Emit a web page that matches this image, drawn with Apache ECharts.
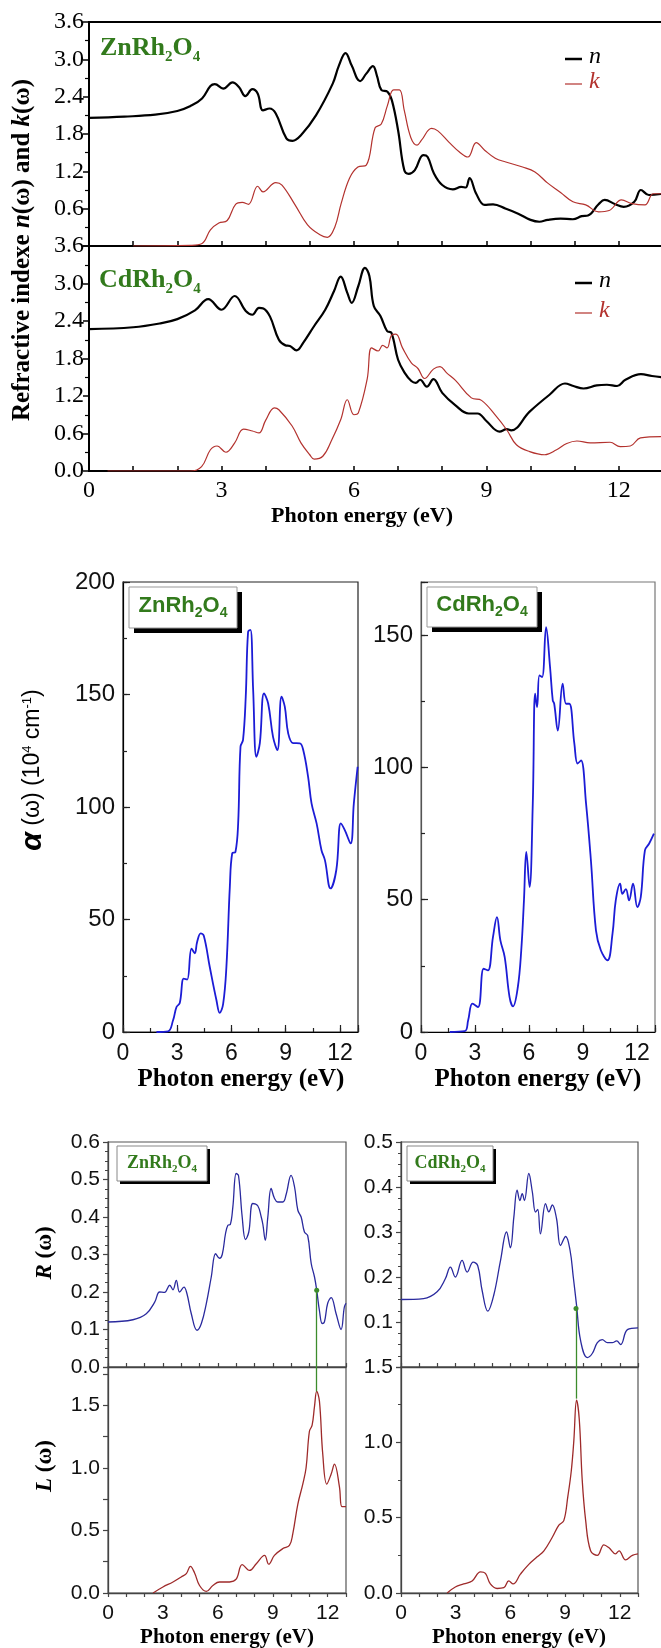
<!DOCTYPE html>
<html><head><meta charset="utf-8">
<script src="https://cdn.jsdelivr.net/npm/echarts/dist/echarts.min.js"></script>
<style>html,body{margin:0;padding:0;background:#fff}#c{width:661px;height:1648px}</style>
</head><body><div id="c"></div><script>
// ---------------- data (photon energy eV, value) ----------------
const energyTickLabels = [0, 3, 6, 9, 12];
const znN = [[0,2.06],[0.8,2.08],[1.5,2.11],[2.0,2.17],[2.3,2.25],[2.56,2.37],[2.75,2.57],[2.85,2.60],[3.04,2.53],[3.25,2.63],[3.4,2.55],[3.54,2.41],[3.7,2.52],[3.82,2.45],[3.94,2.18],[4.09,2.21],[4.23,2.13],[4.47,1.73],[4.61,1.69],[4.8,1.78],[5.14,2.10],[5.52,2.61],[5.66,2.90],[5.81,3.10],[5.95,2.90],[6.14,2.65],[6.28,2.77],[6.43,2.89],[6.52,2.74],[6.62,2.51],[6.76,2.48],[6.86,2.34],[7.0,1.86],[7.14,1.22],[7.24,1.16],[7.38,1.22],[7.57,1.46],[7.67,1.43],[7.81,1.17],[8.0,0.98],[8.24,0.91],[8.43,0.95],[8.53,0.94],[8.62,1.09],[8.77,0.84],[8.96,0.66],[9.15,0.67],[9.44,0.60],[9.72,0.52],[10.0,0.42],[10.2,0.39],[10.39,0.42],[10.68,0.44],[10.96,0.43],[11.16,0.48],[11.3,0.49],[11.54,0.67],[11.68,0.74],[11.92,0.67],[12.11,0.63],[12.35,0.71],[12.5,0.90],[12.68,0.82],[13,0.84]];
const znK = [[1.0,0],[2.3,0.01],[2.56,0.04],[2.75,0.26],[2.94,0.37],[3.13,0.41],[3.32,0.67],[3.47,0.70],[3.61,0.67],[3.82,0.96],[3.94,0.87],[4.23,1.02],[4.37,0.98],[4.66,0.67],[4.95,0.34],[5.23,0.18],[5.4,0.14],[5.57,0.31],[5.71,0.68],[5.9,1.09],[6.09,1.27],[6.28,1.30],[6.48,1.90],[6.62,1.96],[6.76,2.26],[6.9,2.51],[7.03,2.51],[7.14,2.18],[7.29,1.74],[7.43,1.62],[7.53,1.70],[7.76,1.89],[7.9,1.85],[8.15,1.67],[8.39,1.51],[8.58,1.43],[8.77,1.66],[8.96,1.54],[9.2,1.41],[9.44,1.35],[9.82,1.27],[10.1,1.19],[10.39,1.01],[10.68,0.86],[10.96,0.71],[11.25,0.66],[11.54,0.55],[11.78,0.57],[12.06,0.74],[12.3,0.68],[12.59,0.66],[12.78,0.84],[13,0.84]];
const cdN = [[0,2.27],[1.0,2.30],[1.6,2.36],[2.0,2.43],[2.4,2.57],[2.7,2.75],[3.0,2.58],[3.3,2.80],[3.55,2.56],[3.7,2.50],[3.85,2.61],[3.95,2.60],[4.1,2.47],[4.3,2.10],[4.45,2.01],[4.55,2.00],[4.7,1.93],[4.85,2.05],[5.1,2.32],[5.35,2.58],[5.55,2.88],[5.7,3.11],[5.85,2.85],[5.95,2.69],[6.1,2.96],[6.25,3.25],[6.35,3.12],[6.45,2.64],[6.6,2.48],[6.75,2.24],[6.85,2.21],[7.0,1.78],[7.15,1.57],[7.3,1.44],[7.4,1.41],[7.5,1.46],[7.65,1.35],[7.8,1.47],[8.0,1.25],[8.3,1.05],[8.6,0.92],[8.8,0.92],[9.0,0.80],[9.3,0.63],[9.46,0.67],[9.56,0.65],[9.98,0.95],[10.43,1.22],[10.78,1.40],[10.97,1.36],[11.2,1.32],[11.5,1.37],[11.73,1.38],[11.96,1.36],[12.15,1.46],[12.5,1.55],[12.75,1.52],[13,1.50]];
const cdK = [[0.42,0],[2.3,0.0],[2.55,0.07],[2.75,0.34],[2.9,0.40],[3.1,0.30],[3.3,0.45],[3.5,0.67],[3.7,0.64],[3.85,0.61],[4.0,0.81],[4.2,1.01],[4.3,0.98],[4.6,0.72],[4.8,0.45],[5.0,0.26],[5.1,0.19],[5.3,0.24],[5.5,0.50],[5.7,0.82],[5.85,1.14],[6.0,0.90],[6.1,0.93],[6.3,1.47],[6.4,1.97],[6.55,1.92],[6.65,2.01],[6.75,1.97],[6.85,2.17],[6.95,2.19],[7.1,1.97],[7.3,1.73],[7.45,1.64],[7.6,1.48],[7.8,1.63],[7.95,1.67],[8.1,1.57],[8.3,1.45],[8.66,1.17],[8.89,1.13],[9.23,0.87],[9.46,0.66],[9.68,0.42],[9.98,0.31],[10.32,0.26],[10.59,0.34],[10.82,0.44],[11.05,0.48],[11.35,0.45],[11.8,0.46],[12.03,0.39],[12.26,0.40],[12.49,0.53],[13,0.55]];
const znAlpha = [[1.85,0],[2.49,0.3],[2.77,5.2],[2.96,11.1],[3.14,12.9],[3.36,23.7],[3.55,23.3],[3.79,37.1],[3.97,35],[4.1,40],[4.3,43.8],[4.47,42.8],[4.8,28.9],[5.17,14.1],[5.35,8.5],[5.54,12.5],[5.72,28.9],[5.91,64.5],[6.04,79.4],[6.22,80],[6.37,92.7],[6.5,126.8],[6.64,129.8],[6.79,149],[6.92,177.9],[7.05,178.7],[7.2,152],[7.38,122.3],[7.57,128.4],[7.8,150.5],[8.03,146],[8.3,131.2],[8.54,125.3],[8.77,149],[8.95,144.6],[9.14,132.7],[9.41,128.4],[9.78,128.3],[9.97,125.3],[10.24,113.4],[10.43,101.6],[10.71,92.7],[10.98,80.8],[11.17,76.4],[11.48,63.8],[11.8,72],[12.05,92.7],[12.27,89.7],[12.59,83.8],[12.77,101.6],[12.98,117.9]];
const cdAlpha = [[1.6,0],[2.43,0.3],[2.62,4.4],[2.86,10.7],[3.17,9.4],[3.48,23.9],[3.72,23.3],[4.0,35.9],[4.22,43.4],[4.41,34.6],[4.65,28.3],[4.92,13.2],[5.11,9.7],[5.38,17],[5.57,30.9],[5.72,49.7],[5.85,68],[6.03,54.8],[6.21,86.3],[6.34,127.8],[6.45,122.7],[6.58,134.7],[6.73,134.1],[6.95,152.9],[7.17,137.8],[7.32,125.3],[7.4,124],[7.6,113.9],[7.87,131.6],[8.06,124],[8.24,124],[8.52,108.9],[8.7,101.4],[8.89,102.6],[9.17,86.3],[9.44,64.8],[9.72,38.4],[9.99,30.9],[10.36,27.1],[10.64,37.2],[10.82,49.7],[11.06,56],[11.19,52.2],[11.38,54],[11.56,49.7],[11.78,56],[12.02,47.2],[12.21,51],[12.44,68.6],[12.67,71.1],[12.94,74.9]];
const znR = [[0,0.12],[1.36,0.126],[2.09,0.142],[2.55,0.173],[2.82,0.20],[3.09,0.199],[3.37,0.218],[3.55,0.206],[3.73,0.231],[3.91,0.20],[4.15,0.213],[4.31,0.196],[4.55,0.142],[4.86,0.098],[5.1,0.116],[5.37,0.169],[5.64,0.24],[5.88,0.302],[6.09,0.29],[6.24,0.30],[6.42,0.356],[6.55,0.378],[6.68,0.38],[6.82,0.427],[7.0,0.516],[7.13,0.51],[7.33,0.40],[7.51,0.34],[7.69,0.36],[7.91,0.436],[8.18,0.43],[8.37,0.40],[8.46,0.38],[8.59,0.338],[8.73,0.40],[8.91,0.476],[9.09,0.45],[9.27,0.44],[9.55,0.44],[9.73,0.46],[10.0,0.511],[10.19,0.48],[10.37,0.418],[10.55,0.40],[10.73,0.36],[10.91,0.35],[11.1,0.276],[11.28,0.24],[11.4,0.205],[11.55,0.15],[11.7,0.116],[11.82,0.12],[12.0,0.17],[12.19,0.185],[12.46,0.142],[12.73,0.10],[12.91,0.16],[13,0.17]];
const znL = [[2.46,0],[3.0,0.048],[3.55,0.088],[4.0,0.128],[4.28,0.155],[4.5,0.213],[4.73,0.16],[5.0,0.06],[5.37,0.013],[5.73,0.06],[6.09,0.088],[6.64,0.088],[7.0,0.11],[7.33,0.227],[7.73,0.18],[8.1,0.234],[8.55,0.30],[8.78,0.23],[9.09,0.30],[9.55,0.355],[9.91,0.38],[10.09,0.47],[10.37,0.71],[10.64,0.87],[10.82,1.0],[11.0,1.29],[11.15,1.34],[11.28,1.49],[11.4,1.61],[11.55,1.53],[11.73,1.11],[11.95,0.87],[12.19,0.95],[12.37,1.03],[12.64,0.85],[12.78,0.69],[13,0.69]];
const cdR = [[0,0.15],[1.24,0.152],[1.98,0.167],[2.43,0.196],[2.71,0.222],[2.98,0.20],[3.35,0.237],[3.63,0.211],[3.96,0.233],[4.21,0.225],[4.45,0.17],[4.76,0.124],[5.09,0.16],[5.46,0.237],[5.79,0.30],[6.0,0.265],[6.19,0.333],[6.37,0.393],[6.52,0.37],[6.65,0.385],[6.77,0.37],[7.01,0.43],[7.2,0.39],[7.38,0.344],[7.5,0.35],[7.65,0.296],[7.93,0.363],[8.11,0.345],[8.3,0.36],[8.53,0.33],[8.75,0.27],[9.03,0.29],[9.27,0.26],[9.45,0.20],[9.63,0.137],[9.85,0.059],[10.22,0.021],[10.49,0.03],[10.77,0.054],[11.04,0.061],[11.32,0.054],[11.59,0.054],[11.83,0.058],[12.05,0.05],[12.42,0.083],[13,0.087]];
const cdL = [[2.53,0],[2.98,0.04],[3.44,0.06],[3.9,0.08],[4.36,0.14],[4.63,0.13],[4.9,0.06],[5.27,0.03],[5.64,0.035],[5.91,0.08],[6.15,0.06],[6.55,0.125],[7.01,0.19],[7.47,0.24],[7.84,0.28],[8.3,0.37],[8.66,0.45],[8.93,0.48],[9.15,0.64],[9.34,0.81],[9.48,1.01],[9.63,1.28],[9.78,1.15],[9.94,0.75],[10.13,0.48],[10.4,0.28],[10.77,0.25],[11.13,0.32],[11.41,0.30],[11.77,0.26],[11.96,0.28],[12.32,0.22],[12.69,0.25],[13,0.26]];
// plasma-edge marker: [energy, R at edge, L peak]
const znPlasma = [11.4, 0.205, 1.61];
const cdPlasma = [9.6, 0.13, 1.29];

// ---------------- styling ----------------
const SERIF = '"Liberation Serif","Times New Roman",serif';
const SANS = '"Liberation Sans",Arial,sans-serif';
const GREEN = '#327a1c';
const isMult = (v, m) => Math.abs(v / m - Math.round(v / m)) < 1e-6;
const eLabel = v => energyTickLabels.some(t => Math.abs(t - v) < 1e-6) ? String(Math.round(v)) : '';

const grids = [
  {left:89, top:22, width:574, height:224},
  {left:89, top:246, width:574, height:225},
  {left:123, top:582, width:235, height:450},
  {left:421, top:582, width:234, height:450},
  {left:108, top:1142, width:238, height:225},
  {left:108, top:1367, width:238, height:226},
  {left:401, top:1142, width:237, height:225},
  {left:401, top:1367, width:237, height:226}
].map((g, i) => Object.assign({
  show: true, backgroundColor: 'transparent', containLabel: false, outerBoundsMode: 'none',
  borderColor: i < 2 ? '#000' : (i === 2 ? '#222' : (i === 3 ? '#777' : '#555')),
  borderWidth: i < 2 ? 2 : 1.2
}, g));

function topX(grid, labels) {
  return {gridIndex:grid, type:'value', min:0, max:13, interval:1, position:'bottom',
    axisLine:{onZero:false, lineStyle:{color:'#000', width:2}},
    axisTick:{inside:true, length:5, lineStyle:{color:'#000', width:1.5}},
    axisLabel:{show:labels, formatter:eLabel, fontFamily:SERIF, fontSize:24, color:'#000', margin:8},
    splitLine:{show:false}};
}
function topY(grid, hideMin) {
  return {gridIndex:grid, type:'value', min:0, max:3.6, interval:0.6,
    axisLine:{show:true, onZero:false, lineStyle:{color:'#000', width:2}},
    axisTick:{show:true, inside:false, length:6, lineStyle:{color:'#000', width:1.5}},
    minorTick:{show:true, splitNumber:2, length:4, lineStyle:{color:'#000', width:1.2}},
    axisLabel:{formatter: v => (hideMin && v < 1e-6) ? '' : v.toFixed(1), fontFamily:SERIF, fontSize:24, color:'#000', margin:5},
    splitLine:{show:false}};
}
function midX(grid, main) {
  return {gridIndex:grid, type:'value', min:0, max:13, interval: main ? 3 : 1.5, position:'bottom',
    axisLine:{show:main, onZero:false, lineStyle:{color:'#000', width:1.2}},
    axisTick:{inside:true, length: main ? 7 : 4, lineStyle:{color:'#222', width:1.2}},
    axisLabel:{show:main, formatter:eLabel, fontFamily:SANS, fontSize:23, color:'#111', margin:10},
    splitLine:{show:false}};
}
function midY(grid, max, main) {
  return {gridIndex:grid, type:'value', min:0, max:max, interval: main ? 50 : 25, position:'left',
    axisLine:{show:main, onZero:false, lineStyle:{color: grid === 3 ? '#555' : '#000', width:1.2}},
    axisTick:{inside:true, length: main ? 7 : 4, lineStyle:{color:'#222', width:1.2}},
    axisLabel:{show:main, formatter: v => isMult(v, 50) ? String(Math.round(v)) : '', fontFamily:SANS, fontSize:24, color:'#111', margin:8},
    splitLine:{show:false}};
}
function botX(grid, labels) {
  return {gridIndex:grid, type:'value', min:0, max:13, interval:1, position:'bottom',
    axisLine:{onZero:false, lineStyle:{color:'#444', width:1.3}},
    axisTick:{inside:!labels, length:4, lineStyle:{color:'#444', width:1.2}},
    axisLabel:{show:labels, formatter:eLabel, fontFamily:SANS, fontSize:21, color:'#111', margin:10},
    splitLine:{show:false}};
}
function botY(grid, max, interval, fmt, minorSplit) {
  return {gridIndex:grid, type:'value', min:0, max:max, interval:interval,
    axisLine:{show:true, onZero:false, lineStyle:{color:'#444', width:1.3}},
    axisTick:{inside:false, length:5, lineStyle:{color:'#444', width:1.2}},
    minorTick:{show: !!minorSplit, splitNumber: minorSplit || 5, length:3, lineStyle:{color:'#444', width:1}},
    axisLabel:{formatter:fmt, fontFamily:SANS, fontSize:21, color:'#111', margin:8},
    splitLine:{show:false}};
}

const xAxes = [
  topX(0, false), topX(1, true),
  midX(2, true), midX(2, false), midX(3, true), midX(3, false),
  botX(4, false), botX(5, true), botX(6, false), botX(7, true)
];
const yAxes = [
  topY(0, true), topY(1, false),
  midY(2, 200, true), midY(2, 200, false), midY(3, 170, true), midY(3, 170, false),
  botY(4, 0.6, 0.1, v => v.toFixed(1), 4),
  botY(5, 1.805, 0.25, v => (isMult(v, 0.5) && v < 1.7) ? v.toFixed(1) : '', 0),
  botY(6, 0.5, 0.1, v => v < 1e-6 ? '' : v.toFixed(1), 4),
  botY(7, 1.5, 0.5, v => v.toFixed(1), 2)
];

function line(data, xi, yi, color, width, extra) {
  return Object.assign({type:'line', data:data, xAxisIndex:xi, yAxisIndex:yi, showSymbol:false, symbol:'none',
    smooth:0.4, lineStyle:{color:color, width:width, join:'round'}, itemStyle:{color:color}, silent:true}, extra || {});
}
function plasmaMark(x, yTop, yBottom, dot) {
  return {markLine:{silent:true, animation:false, symbol: dot ? ['circle','none'] : ['none','none'], symbolSize:5,
    label:{show:false}, emphasis:{disabled:true}, lineStyle:{color:'#3c8c2c', width:1.3, type:'solid'},
    itemStyle:{color:'#3c8c2c'},
    data:[[{coord:[x, yTop]}, {coord:[x, yBottom]}]]}};
}
const RED = '#b3322e';
const series = [
  line(znN, 0, 0, '#000', 2.2),
  line(znK, 0, 0, RED, 1.2),
  line(cdN, 1, 1, '#000', 2.2),
  line(cdK, 1, 1, RED, 1.2),
  line(znAlpha, 2, 2, '#1c1cd6', 1.8),
  line(cdAlpha, 4, 4, '#1c1cd6', 1.8),
  line(znR, 6, 6, '#2a2a9e', 1.3, plasmaMark(znPlasma[0], znPlasma[1], 0, true)),
  line(znL, 7, 7, '#9e2a2a', 1.3, plasmaMark(znPlasma[0], 1.805, znPlasma[2], false)),
  line(cdR, 8, 8, '#2a2a9e', 1.3, plasmaMark(cdPlasma[0], cdPlasma[1], 0, true)),
  line(cdL, 9, 9, '#9e2a2a', 1.3, plasmaMark(cdPlasma[0], 1.5, cdPlasma[2], false))
];

// ---------------- texts / decorations ----------------
const graphics = [];
function addText(x, y, text, rich, opt) {
  opt = opt || {};
  graphics.push({type:'text', x:x, y:y, rotation: opt.rotation || 0, z: 12, silent:true,
    style:{text:text, rich:rich, align: opt.align || 'center', verticalAlign:'middle',
      textAlign: opt.align || 'center', textVerticalAlign:'middle', fill: opt.fill || '#000',
      font: opt.font || ('bold 20px ' + SERIF)}});
}
function formulaRich(family, size, sub, subDrop) {
  return {
    m:{fontFamily:family, fontWeight:'bold', fontSize:size, fill:GREEN, lineHeight:size + 2},
    s:{fontFamily:family, fontWeight:'bold', fontSize:sub, fill:GREEN, verticalAlign:'bottom', height:subDrop}
  };
}
const fZn = '{m|ZnRh}{s|2}{m|O}{s|4}';
const fCd = '{m|CdRh}{s|2}{m|O}{s|4}';
function addBox(x, y, w, h, off, stroke) {
  graphics.push({type:'rect', z:10, silent:true, shape:{x:x + off, y:y + off, width:w, height:h}, style:{fill:'#000'}});
  graphics.push({type:'rect', z:11, silent:true, shape:{x:x, y:y, width:w, height:h}, style:{fill:'#fff', stroke:stroke, lineWidth:1}});
}
function addLegendLine(x1, x2, y, color, w) {
  graphics.push({type:'line', z:12, silent:true, shape:{x1:x1, y1:y, x2:x2, y2:y}, style:{stroke:color, lineWidth:w}});
}

// top panel
addText(100, 48, fZn, formulaRich(SERIF, 26, 15, 10), {align:'left'});
addText(99, 280, fCd, formulaRich(SERIF, 26, 15, 10), {align:'left'});
addLegendLine(565, 582, 59, '#000', 2.5);
addText(589, 57, 'n', null, {align:'left', font:'italic 24px ' + SERIF});
addLegendLine(565, 582, 84, RED, 1.2);
addText(589, 82, 'k', null, {align:'left', font:'italic 24px ' + SERIF, fill:RED});
addLegendLine(575, 592, 283, '#000', 2.5);
addText(599, 281, 'n', null, {align:'left', font:'italic 24px ' + SERIF});
addLegendLine(575, 592, 313, RED, 1.2);
addText(599, 311, 'k', null, {align:'left', font:'italic 24px ' + SERIF, fill:RED});
addText(23, 250, '{b|Refractive indexe }{i|n}{b|(ω) and }{i|k}{b|(ω)}', {
  b:{fontFamily:SERIF, fontWeight:'bold', fontSize:25, fill:'#000'},
  i:{fontFamily:SERIF, fontWeight:'bold', fontStyle:'italic', fontSize:25, fill:'#000'}
}, {rotation: Math.PI / 2});
addText(362, 516, 'Photon energy (eV)', null, {font:'bold 22px ' + SERIF});

// middle panels
addBox(129, 587, 108, 41, 5, '#999');
addText(183, 606, fZn, formulaRich(SANS, 22, 14, 9));
addBox(427, 587, 110, 40, 5, '#999');
addText(482, 605, fCd, formulaRich(SANS, 22, 14, 9));
addText(33, 770, '{a|α}{b| (ω) (10}{p|4}{b| cm}{p|-1}{b|)}', {
  a:{fontFamily:SANS, fontWeight:'bold', fontStyle:'italic', fontSize:30, fill:'#000', lineHeight:30},
  b:{fontFamily:SANS, fontSize:23, fill:'#000'},
  p:{fontFamily:SANS, fontSize:13, fill:'#000', verticalAlign:'top', height:18}
}, {rotation: Math.PI / 2});
addText(241, 1080, 'Photon energy (eV)', null, {font:'bold 25px ' + SERIF});
addText(538, 1080, 'Photon energy (eV)', null, {font:'bold 25px ' + SERIF});

// bottom panels
addBox(117, 1146, 90, 35, 3, '#888');
addText(162, 1163, fZn, formulaRich(SERIF, 18, 11, 7));
addBox(407, 1146, 86, 35, 3, '#888');
addText(450, 1163, fCd, formulaRich(SERIF, 18, 11, 7));
const rl = {
  i:{fontFamily:SERIF, fontWeight:'bold', fontStyle:'italic', fontSize:23, fill:'#000'},
  b:{fontFamily:SERIF, fontWeight:'bold', fontSize:23, fill:'#000'}
};
addText(45, 1253, '{i|R}{b| (ω)}', rl, {rotation: Math.PI / 2});
addText(45, 1466, '{i|L}{b| (ω)}', rl, {rotation: Math.PI / 2});
addText(227, 1638, 'Photon energy (eV)', null, {font:'bold 21px ' + SERIF});
addText(519, 1638, 'Photon energy (eV)', null, {font:'bold 21px ' + SERIF});

const chart = echarts.init(document.getElementById('c'), null, {renderer:'canvas'});
chart.setOption({
  animation:false,
  backgroundColor:'#fff',
  grid:grids,
  xAxis:xAxes,
  yAxis:yAxes,
  series:series,
  graphic:{elements:graphics}
});
</script></body></html>
